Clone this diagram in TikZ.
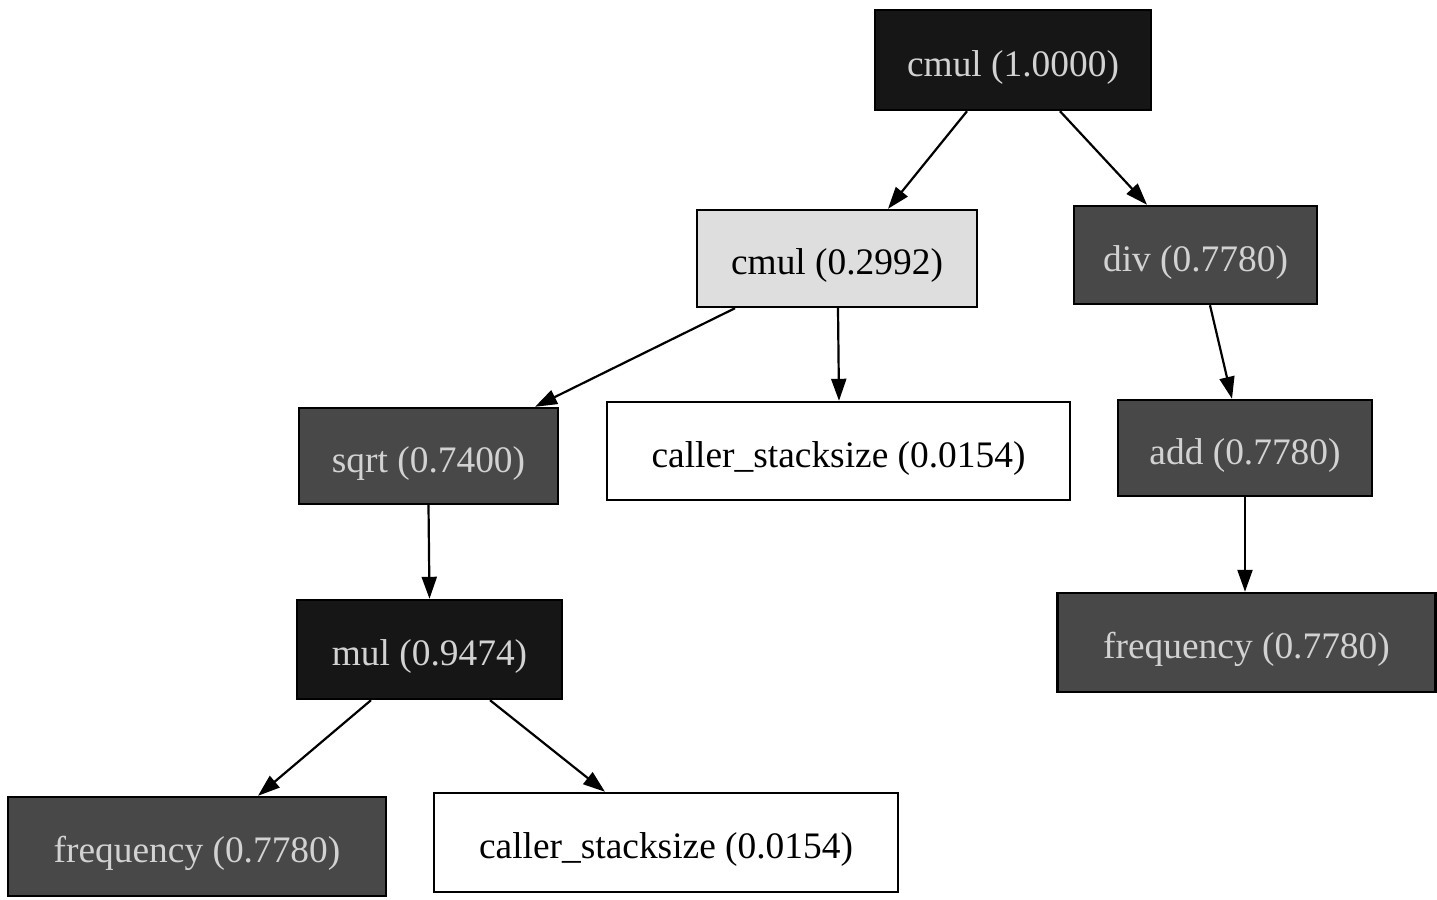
\documentclass[tikz,border=0pt]{standalone}
\usepackage{fontspec}
\setmainfont{Liberation Serif}
\usetikzlibrary{arrows.meta}
\definecolor{nodeblack}{HTML}{161616}
\definecolor{nodedark}{HTML}{484848}
\definecolor{nodelight}{HTML}{DEDEDE}
\definecolor{lighttext}{HTML}{D2D2D2}
\tikzset{
  box/.style={draw=black, line width=1.2pt, rectangle, inner sep=0pt,
    font=\fontsize{18.7}{22}\selectfont, align=center,
    text height=16pt, text depth=0pt},
  hot/.style={box, fill=nodeblack, text=lighttext},
  warm/.style={box, fill=nodedark, text=lighttext},
  mild/.style={box, fill=nodelight, text=black},
  cold/.style={box, fill=white, text=black},
  arr/.style={draw=black, line width=1.1pt, -{Triangle[length=11pt,width=7.5pt]}}
}
\begin{document}
\begin{tikzpicture}[x=0.5pt,y=-0.5pt]
\useasboundingbox (0,0) rectangle (1437,900);

\node[hot,  minimum width=138pt,   minimum height=50pt]   (root)  at (1013,60)     {cmul (1.0000)};
\node[mild, minimum width=140pt,   minimum height=48.5pt] (cmulb) at (837,258.5)   {cmul (0.2992)};
\node[warm, minimum width=121.5pt, minimum height=49pt]   (div)   at (1195.5,255)  {div (0.7780)};
\node[warm, minimum width=129.5pt, minimum height=48pt]   (sqrt)  at (428.5,456)   {sqrt (0.7400)};
\node[cold, minimum width=231.5pt, minimum height=49pt]   (csa)   at (838.5,451)   {caller\_stacksize (0.0154)};
\node[warm, minimum width=127pt,   minimum height=48pt]   (add)   at (1245,448)    {add (0.7780)};
\node[hot,  minimum width=132.5pt, minimum height=49.5pt] (mul)   at (429.5,649.5) {mul (0.9474)};
\node[warm, minimum width=189pt,   minimum height=49.5pt] (freqr) at (1246.5,642.5) {frequency (0.7780)};
\node[warm, minimum width=189pt,   minimum height=49.5pt] (freql) at (197,846.5)   {frequency (0.7780)};
\node[cold, minimum width=232pt,   minimum height=49.5pt] (csb)   at (666,842.5)   {caller\_stacksize (0.0154)};

\draw[arr] ([xshift=-23pt]root.south) -- ([xshift=25.5pt]cmulb.north);
\draw[arr] ([xshift=23.5pt]root.south) -- ([xshift=-24.25pt]div.north);
\draw[arr] ([xshift=-51pt]cmulb.south) -- ([xshift=53.25pt]sqrt.north);
\draw[arr] ([xshift=0.5pt]cmulb.south) -- ([xshift=0.25pt]csa.north);
\draw[arr] ([xshift=7.25pt]div.south) -- ([xshift=-6.5pt]add.north);
\draw[arr] (sqrt.south) -- (mul.north);
\draw[arr] (add.south) -- ([xshift=-0.75pt]freqr.north);
\draw[arr] ([xshift=-29.25pt]mul.south) -- ([xshift=30.5pt]freql.north);
\draw[arr] ([xshift=30.25pt]mul.south) -- ([xshift=-30.5pt]csb.north);
\end{tikzpicture}
\end{document}
